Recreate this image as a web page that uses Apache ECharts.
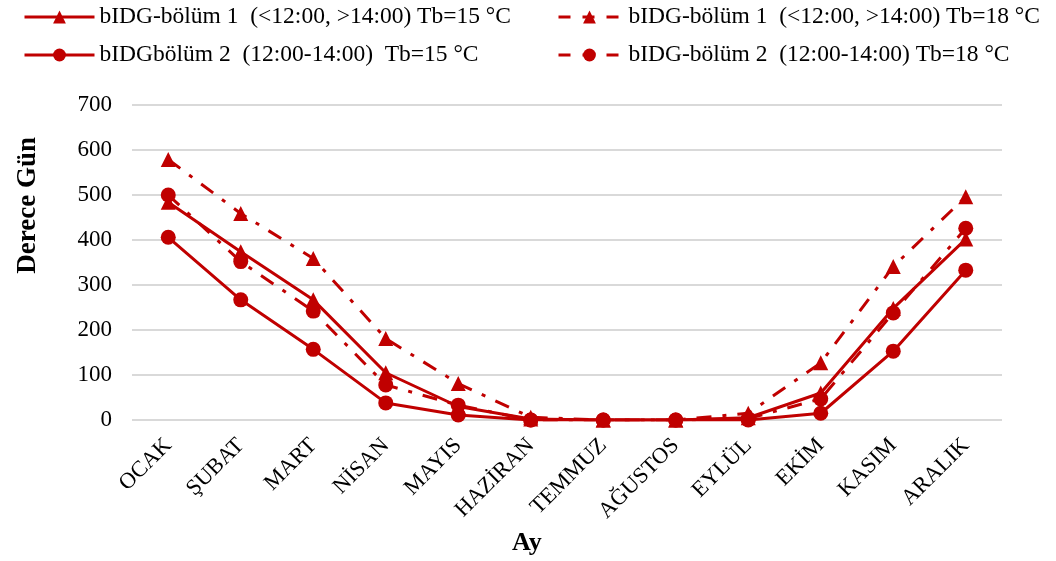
<!DOCTYPE html>
<html><head><meta charset="utf-8">
<script src="https://cdn.jsdelivr.net/npm/echarts@6/dist/echarts.min.js"></script>
<style>html,body{margin:0;padding:0;background:#fff}#c{width:1056px;height:561px}</style>
</head><body><div id="c"></div>
<script>
const categories = ['OCAK','ŞUBAT','MART','NİSAN','MAYIS','HAZİRAN','TEMMUZ','AĞUSTOS','EYLÜL','EKİM','KASIM','ARALIK'];
const seriesNames = [
  'bIDG-bölüm 1  (<12:00, >14:00) Tb=15 °C',
  'bIDGbölüm 2  (12:00-14:00)  Tb=15 °C',
  'bIDG-bölüm 1  (<12:00, >14:00) Tb=18 °C',
  'bIDG-bölüm 2  (12:00-14:00) Tb=18 °C'
];
const b1Tb15 = [484, 374, 267, 105, 30, 2, 0, 0, 5, 60, 248, 402];
const b2Tb15 = [406, 267, 157, 38, 11, 0, 0, 0, 0, 15, 153, 333];
const b1Tb18 = [579, 459, 359, 181, 81, 6, 0, 0, 15, 127, 341, 496];
const b2Tb18 = [500, 352, 242, 78, 33, 0, 0, 0, 3, 47, 238, 426];
const yTicks = {min: 0, max: 700, interval: 100};

const red = '#C00000';
const font = '"Liberation Serif", "Times New Roman", serif';
const dashDot = [15, 11, 4, 11];

function mk(name, data, symbol, dashed) {
  return {
    name, type: 'line', data, symbol, symbolSize: 15,
    itemStyle: {color: red},
    lineStyle: {color: red, width: 3, type: dashed ? dashDot : 'solid'},
    emphasis: {disabled: true}, animation: false
  };
}

const legText = {fontFamily: font, fontSize: 23.5, color: '#000'};
const chart = echarts.init(document.getElementById('c'));
chart.setOption({
  animation: false,
  textStyle: {fontFamily: font, color: '#000'},
  legend: [
    {orient: 'vertical', left: 18, top: 0, itemWidth: 70, itemHeight: 16, itemGap: 14,
     data: [seriesNames[0], seriesNames[1]],
     lineStyle: {width: 3},
     textStyle: Object.assign({padding: [0,0,0,0]}, legText)},
    {orient: 'vertical', left: 552, top: 0, itemWidth: 62, itemHeight: 16, itemGap: 14,
     data: [seriesNames[2], seriesNames[3]],
     lineStyle: {width: 3, type: [12, 12]},
     textStyle: Object.assign({padding: [0,0,0,3]}, legText)}
  ],
  grid: {left: 132, right: 54, top: 105, bottom: 141, containLabel: false},
  xAxis: {
    type: 'category', data: categories, boundaryGap: true,
    axisLine: {show: false}, axisTick: {show: false},
    axisLabel: {rotate: 45, fontFamily: font, fontSize: 22.5, color: '#000', margin: 22, interval: 0}
  },
  yAxis: {
    type: 'value', min: yTicks.min, max: yTicks.max, interval: yTicks.interval,
    axisLine: {show: false}, axisTick: {show: false},
    splitLine: {lineStyle: {color: '#d9d9d9', width: 2}},
    axisLabel: {fontFamily: font, fontSize: 23, color: '#000', margin: 20}
  },
  graphic: [
    {type: 'text', left: 15, top: 137, rotation: Math.PI/2,
     style: {text: 'Derece Gün', font: 'bold 27px ' + font, fill: '#000'}},
    {type: 'text', left: 512, top: 530,
     style: {text: 'Ay', font: 'bold 26px ' + font, fill: '#000'}}
  ],
  series: [
    mk(seriesNames[0], b1Tb15, 'triangle', false),
    mk(seriesNames[1], b2Tb15, 'circle', false),
    mk(seriesNames[2], b1Tb18, 'triangle', true),
    mk(seriesNames[3], b2Tb18, 'circle', true)
  ]
});
</script></body></html>
